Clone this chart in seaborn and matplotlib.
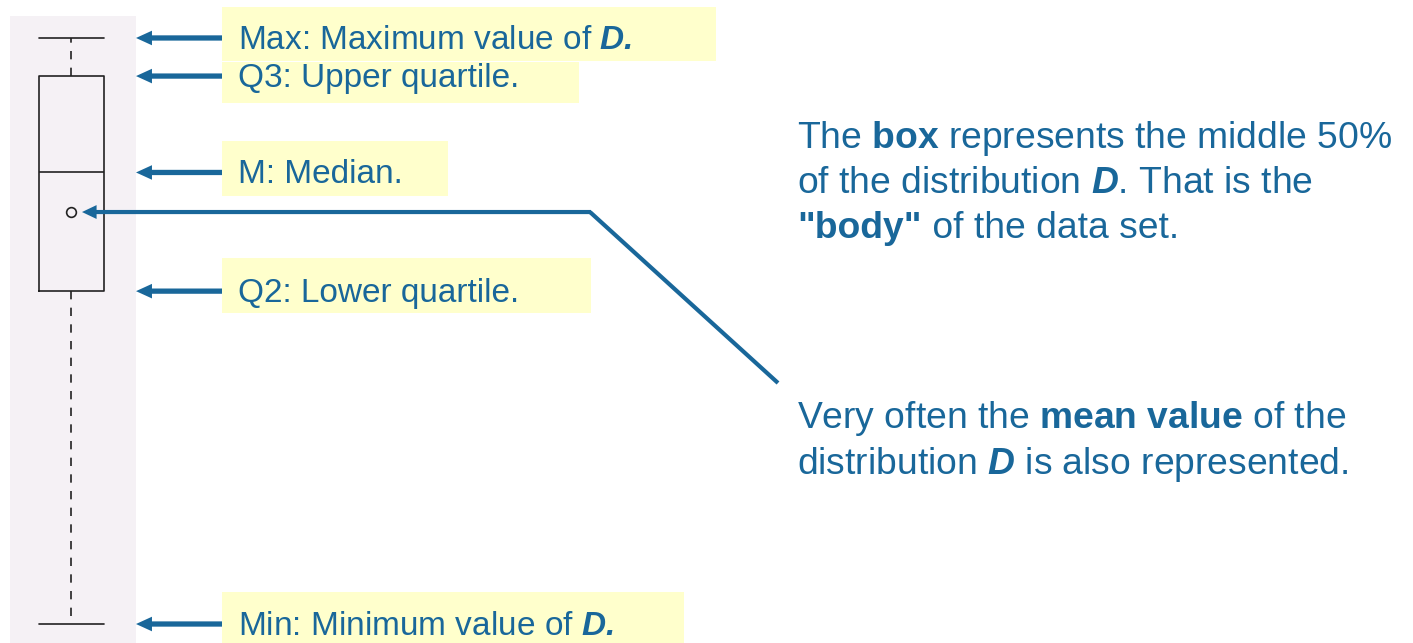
import matplotlib
matplotlib.use('Agg')
import matplotlib.pyplot as plt
import matplotlib.transforms as mtransforms
from matplotlib.patches import Rectangle
import seaborn as sns

# ─────────────────────────────────────────────
# DATA  (abstract scale of the distribution D)
# ─────────────────────────────────────────────
stat_names = ['Min', 'Q2', 'M', 'Q3', 'Max']
D_values   = [0.0, 56.8, 77.05, 93.5, 100.0]   # min, lower q., median, upper q., max
D_mean     = 70.3

label_texts = {
    'Max': r"Max: Maximum value of $\mathbfit{D.}$",
    'Q3':  "Q3: Upper quartile.",
    'M':   "M: Median.",
    'Q2':  "Q2: Lower quartile.",
    'Min': r"Min: Minimum value of $\mathbfit{D.}$",
}
# yellow callout boxes: (left, top, right, bottom) in pixels
label_boxes = {
    'Max': (222, 7, 716, 61),
    'Q3':  (222, 62, 579, 103),
    'M':   (222, 141, 448, 196),
    'Q2':  (222, 258, 591, 313),
    'Min': (222, 592, 684, 643),
}
box_text = [
    r"The $\mathbf{box}$ represents the middle 50%",
    r"of the distribution $\mathbfit{D}$. That is the",
]
body_bold = '"body"'
body_rest = ' of the data set.'
mean_text = [
    r"Very often the $\mathbf{mean\ value}$ of the",
    r"distribution $\mathbfit{D}$ is also represented.",
]

BLUE   = '#19679a'
YELLOW = '#ffffcc'
LAV    = '#f5f1f5'
INK    = '#222222'

sns.set_style('white')
plt.rcParams['font.family'] = ['Liberation Sans', 'DejaVu Sans']
plt.rcParams['mathtext.fontset'] = 'custom'
plt.rcParams['mathtext.rm'] = 'Liberation Sans'
plt.rcParams['mathtext.it'] = 'Liberation Sans:italic'
plt.rcParams['mathtext.bf'] = 'Liberation Sans:bold'
plt.rcParams['mathtext.bfit'] = 'Liberation Sans:italic:bold'

W, H = 1413, 643
fig = plt.figure(figsize=(W / 100, H / 100), dpi=100)

# ─────────────────────────────────────────────
# BOX PLOT COLUMN
# ─────────────────────────────────────────────
ax_box = fig.add_axes([10 / W, 0, 126 / W, 627 / H])
ax_box.set_facecolor(LAV)
sns.boxplot(
    y=D_values, ax=ax_box, fill=False, color=INK, width=0.516,
    whis=(0, 100), linewidth=1.2, capwidths=0.516,
    whiskerprops={'linestyle': (0, (5, 5))},
)
ax_box.plot([0], [D_mean], marker='o', ms=7, mfc='none', mec=INK, mew=1.2)
ax_box.set_xlim(-0.488, 0.512)
ax_box.set_ylim(-3.24, 103.75)
ax_box.set_xticks([])
ax_box.set_yticks([])
ax_box.set_ylabel('')
for s in ax_box.spines.values():
    s.set_visible(False)

# ─────────────────────────────────────────────
# ANNOTATION LAYER (pixel coordinates)
# ─────────────────────────────────────────────
ax = fig.add_axes([0, 0, 1, 1])
ax.set_xlim(0, W)
ax.set_ylim(H, 0)
ax.axis('off')

blend = mtransforms.blended_transform_factory(ax.transData, ax_box.transData)
arrow_kw = dict(arrowstyle='simple,head_length=1.15,head_width=1.05,tail_width=0.38',
                mutation_scale=10, fc=BLUE, ec='none', lw=0, shrinkA=0, shrinkB=0)

for name, val in zip(stat_names, D_values):
    l, t, r, b = label_boxes[name]
    ax.add_patch(Rectangle((l, t), r - l, b - t, fc=YELLOW, ec='none', zorder=1))
    ax.annotate('', xy=(136, val), xycoords=blend, xytext=(222, val), textcoords=blend,
                arrowprops=arrow_kw, zorder=2)
    ax.annotate(label_texts[name], xy=(238, val), xycoords=blend,
                xytext=(0, -7.6), textcoords='offset points',
                ha='left', va='baseline', fontsize=24, color=BLUE, zorder=3)

# mean leader line
y_mean = ax.transData.inverted().transform(ax_box.transData.transform((0, D_mean)))[1]
ax.plot([778, 590], [383, y_mean], color=BLUE, lw=3.0, solid_capstyle='butt', zorder=2)
ax.annotate('', xy=(82, y_mean), xytext=(591, y_mean),
            arrowprops=dict(arrowstyle='simple,head_length=1.05,head_width=1.0,tail_width=0.3',
                            mutation_scale=10, fc=BLUE, ec='none', lw=0, shrinkA=0, shrinkB=0),
            zorder=2)

# explanatory text
FS = 26.8
for i, line in enumerate(box_text):
    ax.text(797, 148 + 45 * i, line, ha='left', va='baseline', fontsize=FS, color=BLUE)
t_body = ax.text(797, 148 + 45 * 2, body_bold, ha='left', va='baseline', fontsize=FS,
                 fontweight='bold', color=BLUE)
ax.annotate(body_rest, xy=(1, 0), xycoords=t_body, ha='left', va='bottom',
            fontsize=FS, color=BLUE)
for i, line in enumerate(mean_text):
    ax.text(797, 428 + 46 * i, line, ha='left', va='baseline', fontsize=FS, color=BLUE)

fig.savefig('out.png', dpi=100)
plt.close(fig)
